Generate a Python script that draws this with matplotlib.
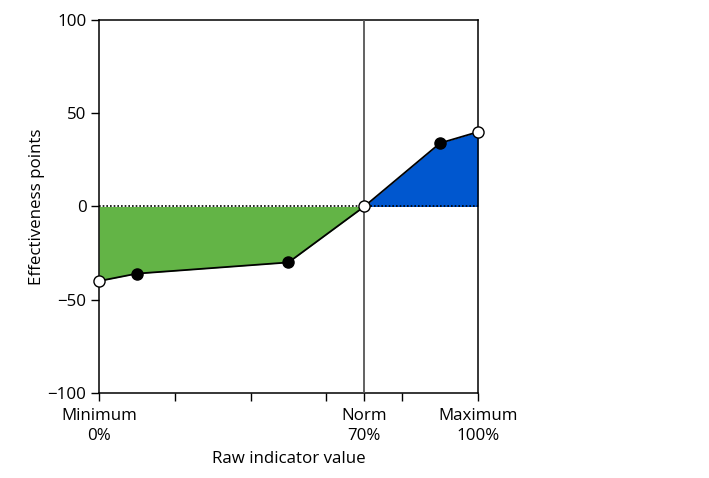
import matplotlib
matplotlib.use("Agg")
import matplotlib.pyplot as plt
import numpy as np

plt.rcParams['font.family'] = ['Open Sans', 'DejaVu Sans']
plt.rcParams['font.size'] = 12.2

# raw value (%) and effectiveness points
x_pts = [0, 10, 50, 70, 90, 100]
y_pts = [-40, -36, -30, 0, 34, 40]
filled = [False, True, True, False, True, False]
norm = 70
tick_pos = [0, 20, 40, 60, 70, 80, 100]
tick_lab = ['Minimum\n0%', '', '', '', 'Norm\n70%', '', 'Maximum\n100%']

x = np.array(x_pts)
y = np.array(y_pts)

fig = plt.figure(figsize=(7.09, 4.78), dpi=100)
ax = fig.add_axes([0.1396, 0.178, 0.5346, 0.780])

below = x <= norm
above = x >= norm
ax.fill_between(x[below], y[below], 0, color='#63b446', lw=0)
ax.fill_between(x[above], y[above], 0, color='#0057cf', lw=0)
ax.axhline(0, color='black', ls=(0, (1, 1.2)), lw=1.2, zorder=3)
ax.axvline(norm, color='#555555', lw=1.3, zorder=3)
ax.plot(x, y, color='black', lw=1.3, zorder=4)
for xi, yi, f in zip(x, y, filled):
    ax.plot(xi, yi, 'o', ms=8, mfc='black' if f else 'white', mec='black',
            mew=1, zorder=5, clip_on=False)

ax.set_xlim(0, 100)
ax.set_ylim(-100, 100)
ax.set_yticks([-100, -50, 0, 50, 100])
ax.set_yticklabels(['\u2212100', '\u221250', '0', '50', '100'])
ax.set_xticks(tick_pos)
ax.set_xticklabels(tick_lab, linespacing=1.3)
ax.tick_params(length=6, width=1, pad=5)
ax.tick_params(axis='y', pad=3)
for s in ax.spines.values():
    s.set_linewidth(1.1)
ax.set_xlabel('Raw indicator value', labelpad=5)
ax.set_ylabel('Effectiveness points', labelpad=2)

fig.savefig('out.png', dpi=100)
